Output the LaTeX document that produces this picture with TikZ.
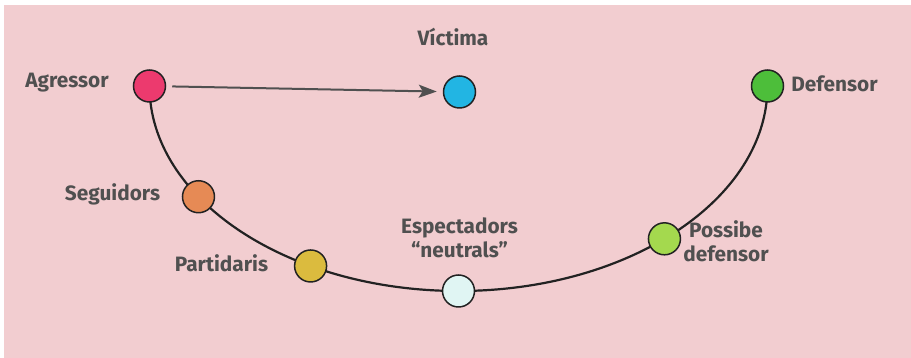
\documentclass[tikz,border=0pt]{standalone}
\usepackage{fontspec}
\setmainfont{Fira Sans}
\usetikzlibrary{arrows.meta}
\definecolor{bgpink}{HTML}{F2CDD0}
\definecolor{txtgrey}{HTML}{505050}
\definecolor{linedark}{HTML}{222222}
\definecolor{agcol}{HTML}{EC3A6E}
\definecolor{viccol}{HTML}{22B5E3}
\definecolor{defcol}{HTML}{4DBE3A}
\definecolor{segcol}{HTML}{E68A55}
\definecolor{parcol}{HTML}{DBBB3E}
\definecolor{espcol}{HTML}{E0F5F3}
\definecolor{poscol}{HTML}{A4D94E}
\tikzset{
  dot/.style={circle,draw=linedark,line width=1.5pt,minimum size=32pt,inner sep=0pt},
  lbl/.style={text=txtgrey,font=\fontsize{20.8}{24}\selectfont\bfseries,inner sep=0pt,align=center},
  curve/.style={draw=linedark,line width=2.2pt},
}
\begin{document}
\begin{tikzpicture}[x=1pt,y=1pt]
\useasboundingbox (0,0) rectangle (911,358);
\fill[bgpink] (4,0) rectangle (911,353);
% positions on the half ellipse
\begin{scope}[shift={(458.5,272)}]
  \coordinate (cag)  at (180:309 and 205);
  \coordinate (cseg) at (212.7:309 and 205);
  \coordinate (cpar) at (241.4:309 and 205);
  \coordinate (cesp) at (270:309 and 205);
  \coordinate (cpos) at (311.8:309 and 205);
  \coordinate (cdef) at (360:309 and 205);
\end{scope}
% the curve, behind the dots
\draw[curve] (cag) arc[start angle=180,end angle=360,x radius=309,y radius=205];
% dots
\node[dot,fill=agcol]  (ag)  at (cag)  {};
\node[dot,fill=segcol] (seg) at (cseg) {};
\node[dot,fill=parcol] (par) at (cpar) {};
\node[dot,fill=espcol] (esp) at (cesp) {};
\node[dot,fill=poscol] (pos) at (cpos) {};
\node[dot,fill=defcol] (def) at (cdef) {};
\node[dot,fill=viccol] (vic) at (459.5,266) {};
% arrow
\draw[draw=txtgrey,line width=2pt,shorten <=6pt,shorten >=6pt,-{Stealth[length=18pt,width=13pt,inset=4pt]}] (ag) -- (vic);
% labels
\node[lbl] (lag)  at (67,275) {Agressor};
\node[lbl] (lvic) at (453,321) {Víctima};
\node[lbl] (ldef) at (834.5,274) {Defensor};
\node[lbl] (lseg) at (112.5,164) {Seguidors};
\node[lbl] (lpar) at (221.5,95) {Partidaris};
\node[lbl] (lesp) at (459.5,120) {Espectadors\\“neutrals”};
\node[lbl] (lpos) at (726,117) {Possibe\\defensor};
\end{tikzpicture}
\end{document}
